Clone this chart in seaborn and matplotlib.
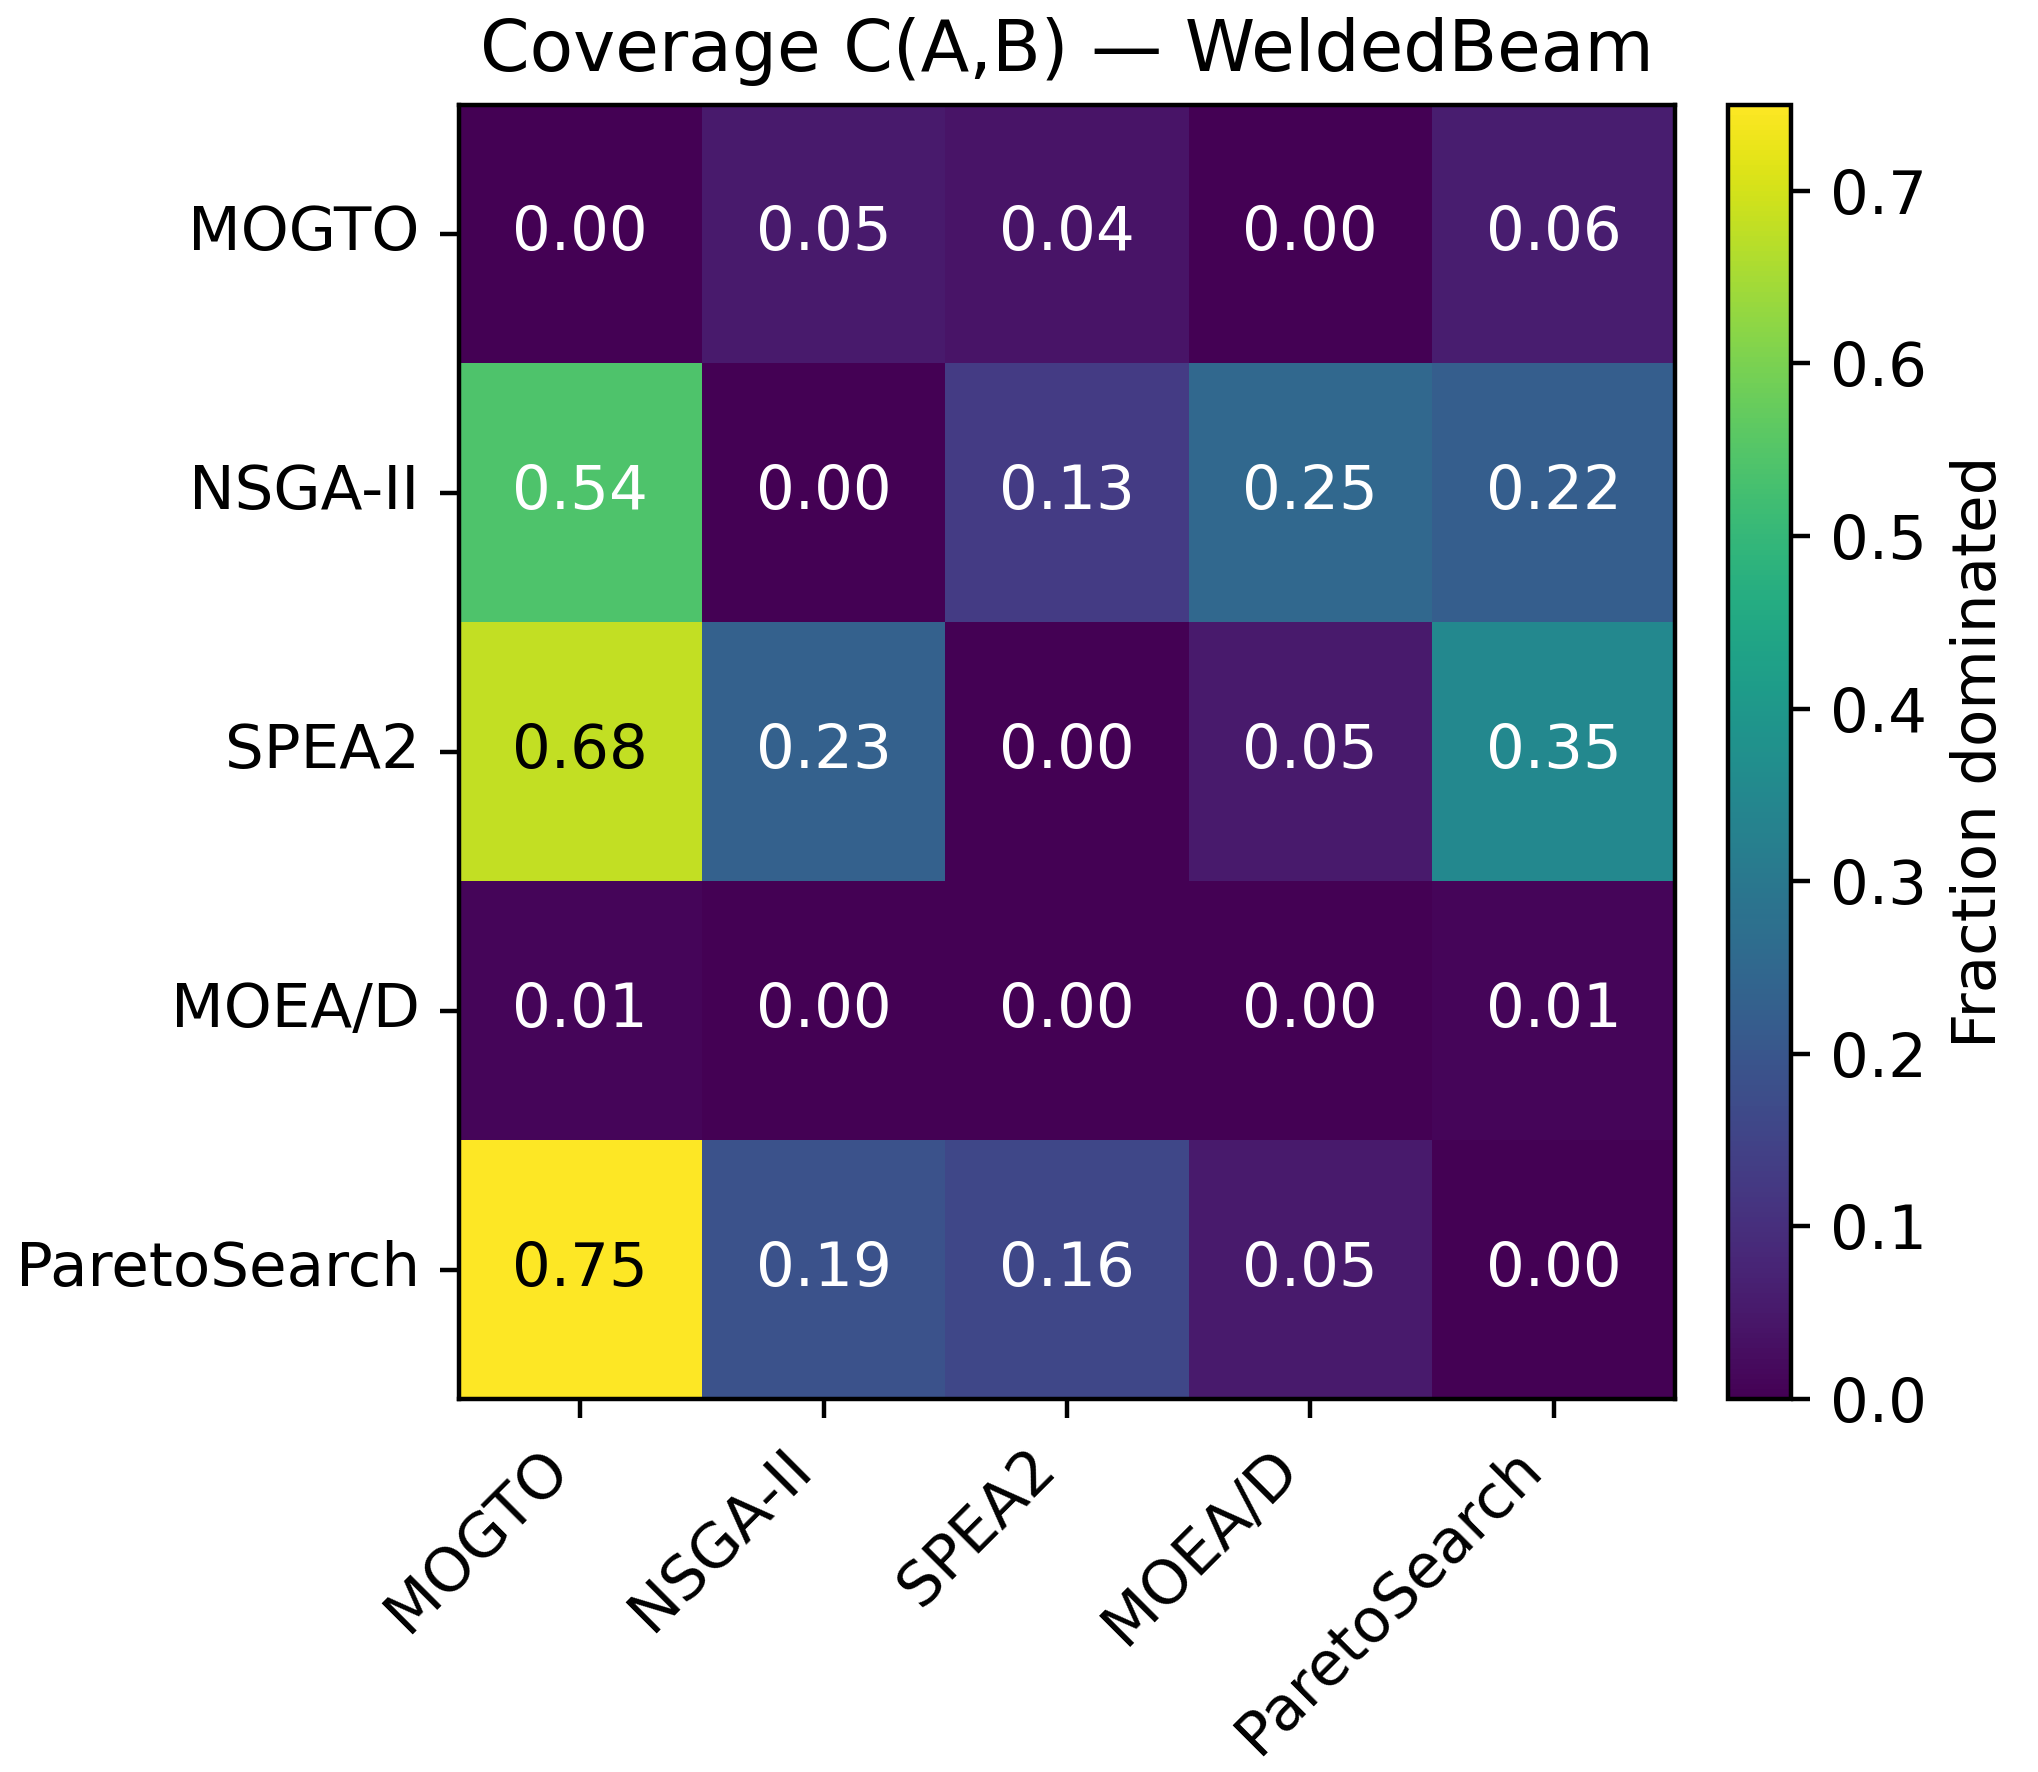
import matplotlib
matplotlib.use("Agg")
import matplotlib.pyplot as plt
import seaborn as sns
import numpy as np
import pandas as pd

algorithms = ["MOGTO", "NSGA-II", "SPEA2", "MOEA/D", "ParetoSearch"]
row_mogto = [0.00, 0.05, 0.04, 0.00, 0.06]
row_nsga2 = [0.54, 0.00, 0.13, 0.25, 0.22]
row_spea2 = [0.68, 0.23, 0.00, 0.05, 0.35]
row_moead = [0.01, 0.00, 0.00, 0.00, 0.01]
row_pareto = [0.75, 0.19, 0.16, 0.05, 0.00]
cbar_ticks = [0.0, 0.1, 0.2, 0.3, 0.4, 0.5, 0.6, 0.7]

data = pd.DataFrame([row_mogto, row_nsga2, row_spea2, row_moead, row_pareto],
                    index=algorithms, columns=algorithms)

plt.rcParams['font.family'] = ['DejaVu Sans']
fig = plt.figure(figsize=(2038 / 400, 1772 / 400), dpi=400)
ax = fig.add_axes([0.225, 0.2105, 0.597, 0.7305])
cax = fig.add_axes([0.848, 0.2105, 0.031, 0.7305])

vmax = float(np.max(data.values))
sns.heatmap(data, ax=ax, cbar_ax=cax, cmap="viridis", vmin=0.0, vmax=vmax,
            annot=False, cbar_kws={"label": "Fraction dominated", "ticks": cbar_ticks})

for i in range(data.shape[0]):
    for j in range(data.shape[1]):
        v = data.values[i, j]
        ax.text(j + 0.5, i + 0.5, f"{v:.2f}", ha="center", va="center",
                fontsize=11, color="black" if v > 0.6 else "white")

for s in ax.spines.values():
    s.set_visible(True)
    s.set_linewidth(0.8)
    s.set_color("black")

ax.tick_params(axis="both", which="both", length=3.5, width=0.8, labelsize=11)
ax.set_xticklabels(algorithms, rotation=45, ha="right")
ax.set_yticklabels(algorithms, rotation=0)
ax.set_xlabel("")
ax.set_ylabel("")
ax.set_title("Coverage C(A,B) — WeldedBeam", fontsize=12.8, pad=6)

cax.tick_params(labelsize=11, length=3.5, width=0.8)
cax.set_ylabel("Fraction dominated", fontsize=11)
cbar = ax.collections[0].colorbar
cbar.outline.set_visible(True)
cbar.outline.set_linewidth(0.8)
cbar.outline.set_edgecolor("black")

fig.savefig("out.png", dpi=400)
